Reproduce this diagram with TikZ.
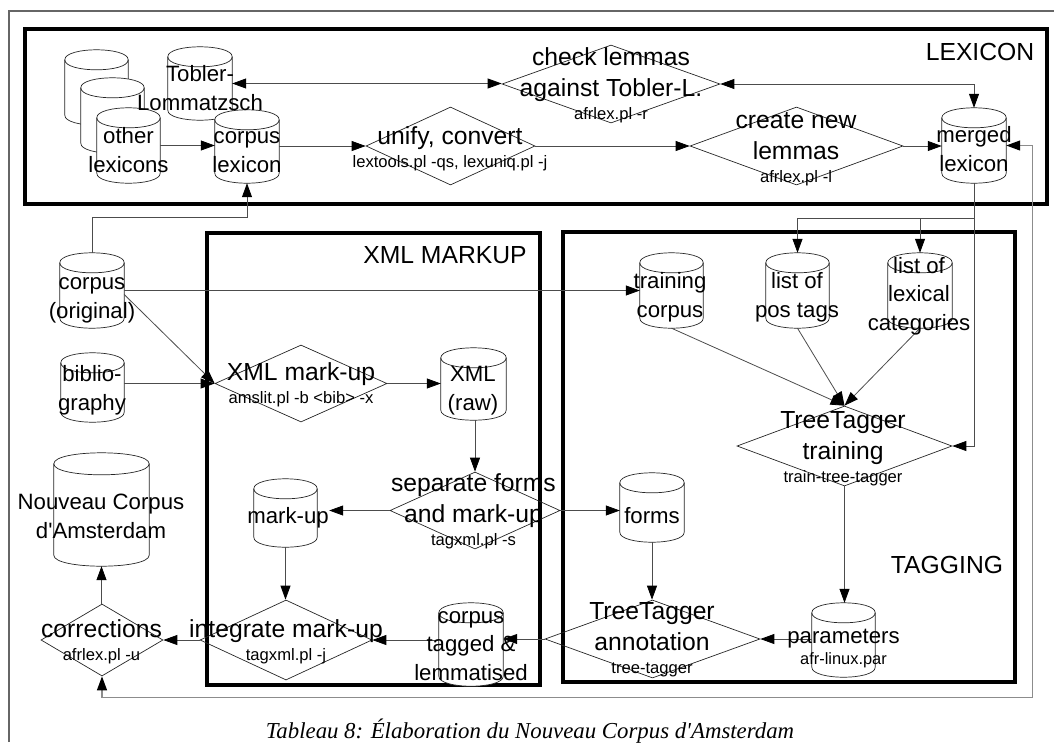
\documentclass[tikz,border=0pt]{standalone}
\usepackage{fontspec}
\setmainfont{Liberation Sans}[Ligatures=TeXOff]
\newfontfamily\capfont{Liberation Serif}[Ligatures=TeXOff]
\usetikzlibrary{shapes.geometric,arrows.meta,calc}
\newcommand\bigc{\fontsize{22.2}{28.5}\selectfont}
\newcommand\bigd{\fontsize{24.7}{31.5}\selectfont}
\newcommand\smalld{\fontsize{16.6}{31.5}\selectfont}
\newcommand\smallc{\fontsize{16.4}{28.5}\selectfont}
\definecolor{lnc}{gray}{0.3}
\definecolor{fbc}{gray}{0.55}
\definecolor{framec}{gray}{0.4}
\definecolor{shapec}{gray}{0.15}
\newcommand\dbcyl[2][10]{%
  \draw[cylline] ($(#2.north west)+(0,#1)$) -- ($(#2.south west)+(0,-#1)$)
    .. controls ($(#2.south west)+(0,#1/3)$) and ($(#2.south east)+(0,#1/3)$) .. ($(#2.south east)+(0,-#1)$)
    -- ($(#2.north east)+(0,#1)$)
    .. controls ($(#2.north east)+(0,-#1/3)$) and ($(#2.north west)+(0,-#1/3)$) .. ($(#2.north west)+(0,#1)$) -- cycle;
  \draw[cylline,fill=none] ($(#2.north west)+(0,#1)$)
    .. controls ($(#2.north west)+(0,7*#1/3)$) and ($(#2.north east)+(0,7*#1/3)$) .. ($(#2.north east)+(0,#1)$);
}
\tikzset{
  cylbox/.style 2 args={rectangle, inner sep=0pt, minimum width=#1, minimum height=#2},
  dia/.style 2 args={diamond, draw=shapec, line width=0.7pt, inner sep=0pt, minimum width=#1, minimum height=#2},
  cylline/.style={draw=shapec, line width=0.7pt, fill=white},
  ctxt/.style={font=\bigc, align=center, anchor=base, inner sep=0pt},
  dtxt/.style={font=\bigd, align=center, anchor=base, inner sep=0pt},
  arr/.style={draw=lnc, line width=0.8pt, -{Triangle[length=14pt,width=10pt,color=black]}},
  darr/.style={draw=lnc, line width=0.8pt, {Triangle[length=14pt,width=10pt,color=black]}-{Triangle[length=14pt,width=10pt,color=black]}},
  plain/.style={draw=lnc, line width=0.8pt},
  fbarr/.style={draw=fbc, line width=1.2pt, {Triangle[length=14pt,width=10pt,color=black]}-{Triangle[length=14pt,width=10pt,color=black]}},
  group/.style={draw=black, line width=4pt},
}
\begin{document}
\begin{tikzpicture}[x=1pt,y=-1pt]
\useasboundingbox (0,0) rectangle (1054,742);
% outer frame
\draw[draw=framec, line width=1.2pt] (9,742) -- (9,11) -- (1054,11);
% groups
\draw[group] (25,29) rectangle (1047,204);
\draw[group] (207,233) rectangle (540,685);
\draw[group] (563,232) rectangle (1015,682);
% cylinder nodes
\node[cylbox={63}{75}] (oth3) at (96.5,87.5) {};
\node[cylbox={63}{75}] (oth2) at (112.5,115.5) {};
\node[cylbox={63}{75}] (oth1) at (128.5,145.5) {};
\node[cylbox={64}{73}] (tobler) at (200,83.5) {};
\node[cylbox={64}{73}] (corplex) at (247,146.5) {};
\node[cylbox={64}{75}] (merged) at (974,145.5) {};
\node[cylbox={64}{75}] (corpus) at (92,290.5) {};
\node[cylbox={63}{69}] (biblio) at (92.5,387.5) {};
\node[cylbox={95}{113}] (nca) at (101.5,509.5) {};
\node[cylbox={65}{72}] (xmlraw) at (473.5,384) {};
\node[cylbox={63}{68}] (markup) at (285.5,513) {};
\node[cylbox={64}{83}] (ctl) at (471,644.5) {};
\node[cylbox={63}{75}] (training) at (671.5,290.5) {};
\node[cylbox={63}{75}] (postags) at (797.5,290.5) {};
\node[cylbox={64}{75}] (lexcat) at (920,290.5) {};
\node[cylbox={64}{69}] (forms) at (652,507.5) {};
\node[cylbox={63}{74}] (params) at (843.5,640) {};
% diamonds
\node[dia={218}{78}] (check) at (611,84) {};
\node[dia={169}{78}] (unify) at (450.5,146) {};
\node[dia={213}{78}] (create) at (796.5,146) {};
\node[dia={172}{77}] (xmlmu) at (301,383.5) {};
\node[dia={170}{77}] (sep) at (475,510.5) {};
\node[dia={172}{80}] (integ) at (286,640) {};
\node[dia={122}{72}] (corr) at (102,640) {};
\node[dia={215}{78}] (ttann) at (652.5,639) {};
\node[dia={215}{80}] (tttrain) at (844.5,446) {};
% cylinders
\dbcyl{oth3}\dbcyl{oth2}\dbcyl{oth1}
\dbcyl{tobler}\dbcyl{corplex}\dbcyl{merged}
\dbcyl{corpus}\dbcyl{biblio}\dbcyl[11]{nca}
\dbcyl{xmlraw}\dbcyl{markup}\dbcyl{ctl}
\dbcyl{training}\dbcyl{postags}\dbcyl{lexcat}
\dbcyl{forms}\dbcyl{params}
% connectors
\draw[arr] (oth1.east) -- (oth1.east -| corplex.west);
\draw[darr] (tobler.east) -- (tobler.east -| check.west);
\draw[darr] (check.east) -| (merged.north);
\draw[arr] (corplex.east |- unify.west) -- (unify.west);
\draw[arr] (unify.east) -- (create.west);
\draw[arr] (create.east) -- (create.east -| merged.west);
\draw[arr] (corpus.north) -- ++(0,-35) -| (corplex.south);
\draw[arr] (corpus.east) -- (corpus.east -| training.west);
\draw[arr] ([yshift=-4pt]corpus.east) -- (xmlmu.west);
\draw[arr] (biblio.east |- xmlmu.west) -- (xmlmu.west);
\draw[arr] (xmlmu.east) -- (xmlmu.east -| xmlraw.west);
\draw[arr] (sep.north |- xmlraw.south) -- (sep.north);
\draw[arr] (sep.east) -- (sep.east -| forms.west);
\draw[arr] (sep.west) -- ([xshift=12pt]sep.west -| markup.east);
\draw[arr] (markup.south) -- (markup.south |- integ.north);
\draw[arr] (integ.west) -- (integ.west -| corr.east);
\draw[arr] (ctl.west |- integ.east) -- (integ.east);
\draw[arr] (ttann.west) -- (ttann.west -| ctl.east);
\draw[arr] (forms.south) -- (forms.south |- ttann.north);
\draw[arr] (params.west |- ttann.east) -- (ttann.east);
\draw[arr] (tttrain.south) -- (tttrain.south |- params.north);
\draw[arr] (training.south) -- (tttrain.north);
\draw[arr] (postags.south) -- (tttrain.north);
\draw[arr] (lexcat.south) -- (tttrain.north);
\draw[arr] (nca.south |- corr.north) -- (nca.south);
\coordinate (br) at ($(merged.south)+(0,35)$);
\draw[plain] (merged.south) -- (br);
\draw[arr] (br) -| (postags.north);
\draw[arr] (br) -| (lexcat.north);
\draw[arr] (br) |- (tttrain.east);
\draw[fbarr] (corr.south) -- ++(0,21) -| ($(merged.east)+(26,0)$) -- (merged.east);
% group labels
\node[dtxt] (lexlabel) at (980,60) {LEXICON};
\node[dtxt] (xmllabel) at (445,263) {XML MARKUP};
\node[dtxt] (taglabel) at (947,573) {TAGGING};
% cylinder texts
\node[ctxt] (t-oth) at (128.5,172) {other\\lexicons};
\node[ctxt] (t-tob) at (200,110) {Tobler-\\Lommatzsch};
\node[ctxt] (t-cl) at (247,172) {corpus\\lexicon};
\node[ctxt] (t-mg) at (974,171) {merged\\lexicon};
\node[ctxt] (t-co) at (92,318) {corpus\\(original)};
\node[ctxt] (t-bi) at (92,410) {biblio-\\graphy};
\node[ctxt] (t-nca) at (101,538) {Nouveau Corpus\\d'Amsterdam};
\node[ctxt] (t-xr) at (473,410) {XML\\(raw)};
\node[ctxt] (t-mu) at (288,523) {mark-up};
\node[ctxt] (t-ctl) at (471,680) {corpus\\tagged \&\\lemmatised};
\node[ctxt] (t-tr) at (670,317) {training\\corpus};
\node[ctxt] (t-pt) at (797,317) {list of\\pos tags};
\node[ctxt] (t-lc) at (919,330) {list of\\lexical\\categories};
\node[ctxt] (t-fo) at (652,523) {forms};
\node[ctxt] (t-pa) at (843.5,664) {parameters\\[-7.5pt]\smallc afr-linux.par};
% diamond texts
\node[dtxt] (t-ck) at (611,119) {check lemmas\\against Tobler-L.\\[-9pt]\smalld afrlex.pl -r};
\node[dtxt] (t-un) at (450,167) {unify, convert\\[-9pt]\smalld lextools.pl -qs, lexuniq.pl -j};
\node[dtxt] (t-cr) at (796,182) {create new\\lemmas\\[-9pt]\smalld afrlex.pl -l};
\node[dtxt] (t-xm) at (301,403) {XML mark-up\\[-9pt]\smalld amslit.pl -b <bib> -x};
\node[dtxt] (t-se) at (473.5,545) {separate forms\\and mark-up\\[-9pt]\smalld tagxml.pl -s};
\node[dtxt] (t-in) at (286,660) {integrate mark-up\\[-9pt]\smalld tagxml.pl -j};
\node[dtxt] (t-cor) at (101.5,660) {corrections\\[-9pt]\smalld afrlex.pl -u};
\node[dtxt] (t-ta) at (652,673) {TreeTagger\\annotation\\[-9pt]\smalld tree-tagger};
\node[dtxt] (t-tt) at (843,482) {TreeTagger\\training\\[-9pt]\smalld train-tree-tagger};
% caption
\node[font=\capfont\itshape\fontsize{22.8}{27}\selectfont, anchor=base, inner sep=0pt] (caption) at (530,738) {Tableau 8: Élaboration du Nouveau Corpus d'Amsterdam};
\end{tikzpicture}
\end{document}
